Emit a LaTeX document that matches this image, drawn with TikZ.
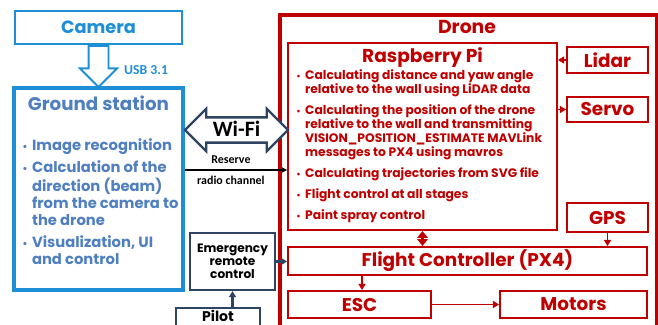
\documentclass[tikz,border=0pt]{standalone}
\usepackage{fontspec}
\setmainfont{Poppins}
\newfontfamily\calib{Carlito}
\usetikzlibrary{positioning,arrows.meta,shapes.arrows,calc}

\definecolor{camblue}{HTML}{1E8FD6}
\definecolor{gsblue}{HTML}{4F7FC0}
\definecolor{dronered}{HTML}{C00000}
\definecolor{ctrlnavy}{HTML}{2F4463}

\newcommand{\fsz}[2]{\fontsize{#1}{#2}\selectfont}

\begin{document}
\begin{tikzpicture}[
    x=0.02cm, y=-0.02cm,
    every node/.style={font=\bfseries},
    redbox/.style={draw=dronered, line width=1.1pt, fill=white, text=dronered, inner sep=0pt},
    navybox/.style={draw=ctrlnavy, line width=1.2pt, fill=white, inner sep=0pt},
    redarrow/.style={dronered, line width=1pt, -{Triangle[length=3.5pt,width=4pt]}},
    navyarrow/.style={ctrlnavy, line width=1.2pt, -{Triangle[length=3.5pt,width=4pt]}}
]
\useasboundingbox (0,0) rectangle (658,324);
\clip (0,0) rectangle (658,324);

% === LEFT SIDE: camera and ground station ===
\node[draw=camblue, line width=1.1pt, minimum width=3.34cm, minimum height=0.66cm,
      text=camblue, font=\bfseries\fsz{10.1}{12}] (cam) at (98.5,27.5) {Camera};

\node[draw=camblue, line width=2.3pt, minimum width=3.38cm, minimum height=4.04cm] (gs) at (98.5,189) {};
\node[text=gsblue, font=\bfseries\fsz{10.4}{12}] (gstitle) at (98.5,103) {Ground station};
\node[text=gsblue, font=\bfseries\fsz{8.4}{9.7}, anchor=north west, inner sep=0pt] (gslist) at (22,138)
  {\begin{tabular}{@{}l@{\hspace{2.5pt}}l@{}}
   \fsz{6}{9.7}• & Image recognition\\[3pt]
   \fsz{6}{9.7}• & Calculation of the\\
     & direction (beam)\\
     & from the camera to\\
     & the drone\\[3pt]
   \fsz{6}{9.7}• & Visualization, UI\\
     & and control
   \end{tabular}};

% USB link (hollow arrow)
\node[single arrow, draw=camblue, line width=1.1pt, fill=white, rotate=-90, anchor=tail,
      minimum height=0.82cm, inner sep=0.18cm, single arrow head extend=0.17cm] (usb) at (cam.south) {};
\node[text=camblue, font=\calib\bfseries\fsz{7.8}{9}, anchor=west] (usblbl) at (118,70) {USB 3.1};

% === RIGHT SIDE: drone ===
\node[draw=dronered, line width=2.3pt, minimum width=7.54cm, minimum height=6.5cm] (drone) at (468.5,177.5) {};
\node[text=dronered, font=\bfseries\fsz{10.7}{12}] (dronetitle) at (467,27) {Drone};

\node[redbox, minimum width=5.38cm, minimum height=3.74cm] (rpi) at (422.5,136.5) {};
\node[text=dronered, font=\bfseries\fsz{10.6}{12}] (rpititle) at (422.5,58) {Raspberry Pi};
\node[text=dronered, font=\bfseries\fsz{7}{8}, anchor=north west, inner sep=0pt] (rpilist) at (296,69)
  {\begin{tabular}{@{}l@{\hspace{2.5pt}}l@{}}
   \fsz{5}{8}• & Calculating distance and yaw angle\\
     & relative to the wall using LiDAR data\\[4pt]
   \fsz{5}{8}• & Calculating the position of the drone\\
     & relative to the wall and transmitting\\
     & VISION\_POSITION\_ESTIMATE MAVLink\\
     & messages to PX4 using mavros\\[4pt]
   \fsz{5}{8}• & Calculating trajectories from SVG file\\[4pt]
   \fsz{5}{8}• & Flight control at all stages\\[4pt]
   \fsz{5}{8}• & Paint spray control
   \end{tabular}};

\node[redbox, minimum width=1.62cm, minimum height=0.52cm, font=\bfseries\fsz{10.5}{12}] (lidar) at (607.5,60) {Lidar};
\node[redbox, minimum width=1.62cm, minimum height=0.50cm, font=\bfseries\fsz{10.5}{12}] (servo) at (607.5,109.5) {Servo};
\node[redbox, minimum width=1.62cm, minimum height=0.58cm, font=\bfseries\fsz{10.5}{12}] (gps) at (607.5,217.5) {GPS};
\node[redbox, minimum width=7.18cm, minimum height=0.56cm, font=\bfseries\fsz{10.5}{12}] (fc) at (467.5,261) {Flight Controller (PX4)};
\node[redbox, minimum width=2.86cm, minimum height=0.54cm, font=\bfseries\fsz{10.5}{12}] (esc) at (359.5,304.5) {ESC};
\node[redbox, minimum width=2.94cm, minimum height=0.54cm, font=\bfseries\fsz{10.5}{12}] (motors) at (573.5,304.5) {Motors};

% Drone internal links
\draw[redarrow] (lidar.west) -- (lidar.west -| rpi.east);
\draw[redarrow] (servo.west -| rpi.east) -- (servo.west);
\draw[dronered, line width=1.8pt, {Triangle[length=4pt,width=6pt]}-{Triangle[length=4pt,width=6pt]}] (rpi.south) -- (fc.north -| rpi.south);
\draw[redarrow] (gps.south) -- (gps.south |- fc.north);
\draw[redarrow] ([xshift=0.05cm]esc.north |- fc.south) -- ([xshift=0.05cm]esc.north);
\draw[redarrow] (esc.east) -- (motors.west);

% === Links between ground and drone ===
\node[double arrow, draw=ctrlnavy, line width=1.3pt, fill=white, inner sep=0pt,
      text height=0.36cm, text depth=0.1cm, minimum height=2.06cm,
      double arrow head extend=0.17cm, font=\calib\bfseries\fsz{12.5}{14}] (wifi) at (236.5,130) {Wi-Fi};

\coordinate (radio) at (gs.east |- 0,170);
\draw[line width=0.6pt, -{Triangle[length=3pt,width=3pt]}] (radio) -- (radio -| rpi.west)
  node[pos=0.45, above=0pt, font=\calib\bfseries\fsz{6.8}{8}] (reserve) {Reserve}
  node[pos=0.45, below=0pt, font=\calib\bfseries\fsz{6.8}{8}] (radiolbl) {radio channel};

% Emergency control and pilot
\node[navybox, minimum width=1.7cm, minimum height=1.14cm, align=center,
      font=\bfseries\fsz{6.9}{7.4}] (erc) at (232.5,261.5) {Emergency\\remote\\control};
\node[navybox, minimum width=1.68cm, minimum height=0.76cm, anchor=north] (pilot) at (218,307) {};
\node[font=\bfseries\fsz{8}{9}] (pilotlbl) at (218,316) {Pilot};

\draw[navyarrow] (erc.east) -- (erc.east -| fc.west);
\draw[navyarrow] (erc.south |- pilot.north) -- (erc.south);

\end{tikzpicture}
\end{document}
